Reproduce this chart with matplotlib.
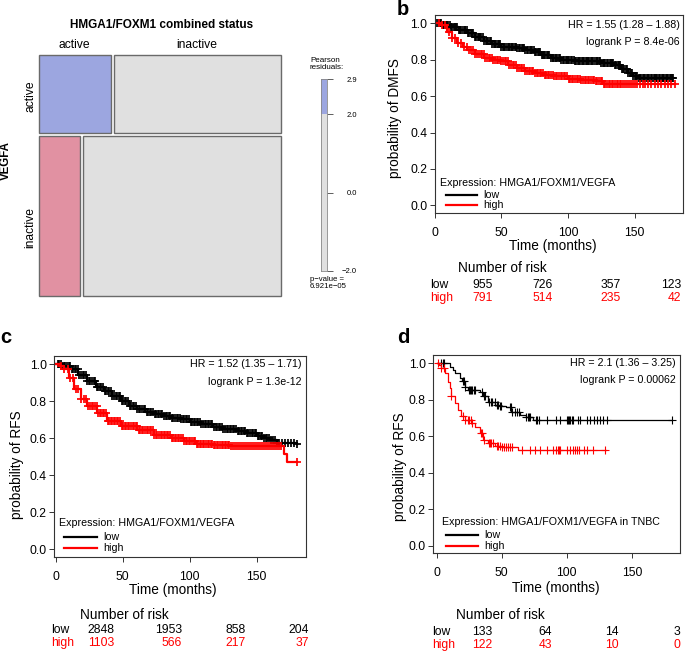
import numpy as np
import matplotlib
matplotlib.use('Agg')
import matplotlib.pyplot as plt
from matplotlib.patches import Rectangle

plt.rcParams['font.family'] = ['Liberation Sans', 'DejaVu Sans']

# ---- panel a: mosaic of VEGFA vs HMGA1/FOXM1 status
row_names = ['active', 'inactive']          # VEGFA
col_names = ['active', 'inactive']          # HMGA1/FOXM1 combined
mosaic_counts = [[98, 229], [116, 557]]
mosaic_colors = [['#9ca6e0', '#e0e0e0'], ['#e191a2', '#e0e0e0']]
resid_breaks = [-2.0, 2.0, 2.9]
resid_colors = ['#e0e0e0', '#9ca6e0']
resid_ticks = [2.9, 2.0, 0.0, -2.0]

# ---- panel b: DMFS
b_low_t = [0, 6, 12, 18, 24.5, 30, 37, 43, 49.5, 55, 62, 68, 74.5, 80, 87, 95, 105, 115, 125, 135, 140, 145, 149, 153, 179]
b_low_s = [1.0, 0.99, 0.981, 0.965, 0.945, 0.925, 0.90, 0.886, 0.872, 0.868, 0.863, 0.852, 0.841, 0.826, 0.808, 0.80, 0.795, 0.79, 0.782, 0.772, 0.75, 0.726, 0.71, 0.699, 0.699]
b_low_c = [1, 2.2, 3, 4.1, 5, 6.2, 7, 8.3, 9.1, 10, 11.2, 12, 13.1, 14.3, 15, 16.2, 17, 18.1, 19.3, 20, 21.2, 22.4, 23, 24.1,
           25.3, 26, 27.2, 28, 29.1, 30.3, 31, 32.2, 33.4, 34, 35.1, 36.3, 37, 38.2, 39, 40.1, 41.3, 42, 43.2, 44.4, 45, 46.1,
           47.3, 48, 49.2, 50, 51.1, 52.3, 53, 54.2, 55.4, 56, 57.1, 58.3, 59, 60.2, 61, 62.1, 63.3, 64, 65.2, 66.4, 67, 68.1,
           69.3, 70, 71.2, 72, 73.1, 74.3, 75, 76.2, 77.4, 78, 79.1, 80.3, 81, 82.2, 83, 84.1, 85.3, 86, 87.2, 88.4, 89, 90.1,
           91.3, 92, 93.2, 94, 95.1, 96.3, 97, 98.2, 99.4, 100, 101.1, 102.3, 103, 104.2, 105, 106.1, 107.3, 108, 109.2, 110.4,
           111, 112.1, 113.3, 114, 115.2, 116, 117.1, 118.3, 119, 120.2, 121.4, 122, 123.1, 124.3, 125, 126.2, 127, 128.1,
           129.3, 130, 131.2, 132.4, 133, 134.1, 135.3, 136, 137.2, 138, 139.1, 140.3, 141, 142.2, 143.4, 144, 145.1, 146.3,
           147, 148.2, 149, 150.1, 151.3, 152, 153.2, 154.4, 155, 156.1, 157.3, 158, 159.2, 160, 161.1, 162.3, 163, 164.2,
           165.4, 166, 167.1, 168.3, 169, 170.2, 171, 172.1, 173.3, 174, 175.2, 176.4, 177, 178.1, 179]
b_high_t = [0, 4, 9.5, 13, 17, 21, 24.5, 30, 37, 43, 49.5, 55, 62, 68, 74.5, 82, 89.5, 100, 110, 120, 126, 180]
b_high_s = [1.0, 0.99, 0.954, 0.92, 0.89, 0.868, 0.854, 0.83, 0.808, 0.80, 0.79, 0.772, 0.754, 0.74, 0.726, 0.716, 0.708, 0.695, 0.688, 0.682, 0.668, 0.668]
b_high_c = [3, 5.5, 8, 10.5, 13, 15, 17.5, 20, 22, 24, 26, 27.5, 29, 30.5, 32, 33.2, 34.5, 35.6, 36.8, 38, 39.3, 40.5, 41.6,
            42.8, 44, 45.3, 46.5, 47.6, 48.8, 50, 51.3, 52.5, 53.6, 54.8, 56, 57.3, 58.5, 59.6, 60.8, 62, 63.3, 64.5, 65.6,
            66.8, 68, 69.3, 70.5, 71.6, 72.8, 74, 75.3, 76.5, 77.6, 78.8, 80, 81.3, 82.5, 83.6, 84.8, 86, 87.3, 88.5, 89.6,
            90.8, 92, 93.3, 94.5, 95.6, 96.8, 98, 99.3, 100.5, 101.6, 102.8, 104, 105.3, 106.5, 107.6, 108.8, 110, 111.3,
            112.5, 113.6, 114.8, 116, 117.3, 118.5, 119.6, 120.8, 122, 123.3, 124.5, 125.6, 126.8, 128, 129.3, 130.5, 131.6,
            132.8, 134, 135.3, 136.5, 137.6, 138.8, 140, 141.5, 143, 144.5, 146, 147.5, 149, 150.5, 152, 154, 156, 158, 160,
            162.5, 165, 167.5, 170, 172.5, 175, 177.5, 180]

# ---- panel c: RFS
c_low_t = [0, 5, 11, 17, 23.6, 30, 36, 42, 48.5, 55, 61, 67, 73.4, 80, 85.8, 92.8, 100, 108, 117.6, 125, 135, 142.5, 150, 155, 160, 165, 180]
c_low_s = [1.0, 0.99, 0.973, 0.94, 0.91, 0.88, 0.856, 0.827, 0.80, 0.777, 0.757, 0.742, 0.73, 0.72, 0.711, 0.703, 0.69, 0.68, 0.663, 0.652, 0.638, 0.627, 0.613, 0.603, 0.59, 0.575, 0.57]
c_low_c = [1.5, 2.7, 3.8, 5, 6.2, 7.3, 8.5, 9.7, 10.8, 12, 13.2, 14.3, 15.5, 16.7, 17.8, 19, 20.2, 21.3, 22.5, 23.7, 24.8, 26,
           27.2, 28.3, 29.5, 30.7, 31.8, 33, 34.2, 35.3, 36.5, 37.7, 38.8, 40, 41.2, 42.3, 43.5, 44.7, 45.8, 47, 48.2, 49.3,
           50.5, 51.7, 52.8, 54, 55.2, 56.3, 57.5, 58.7, 59.8, 61, 62.2, 63.3, 64.5, 65.7, 66.8, 68, 69.2, 70.3, 71.5, 72.7,
           73.8, 75, 76.2, 77.3, 78.5, 79.7, 80.8, 82, 83.2, 84.3, 85.5, 86.7, 87.8, 89, 90.2, 91.3, 92.5, 93.7, 94.8, 96,
           97.2, 98.3, 99.5, 100.7, 101.8, 103, 104.2, 105.3, 106.5, 107.7, 108.8, 110, 111.2, 112.3, 113.5, 114.7, 115.8,
           117, 118.2, 119.3, 120.5, 121.7, 122.8, 124, 125.2, 126.3, 127.5, 128.7, 129.8, 131, 132.2, 133.3, 134.5, 135.7,
           136.8, 138, 139.2, 140.3, 141.5, 142.7, 143.8, 145, 146.2, 147.3, 148.5, 149.7, 150.8, 152, 153.2, 154.3, 155.5,
           156.7, 157.8, 159, 160.5, 162, 163.5, 165, 167, 169, 171, 173, 175.5, 178, 180]
c_high_t = [0, 3, 6.2, 10, 13.7, 18.7, 23.6, 31, 38.5, 48.5, 61, 73.4, 85.8, 95.7, 105, 118, 130, 170.4, 172.4, 180]
c_high_s = [1.0, 0.99, 0.973, 0.928, 0.865, 0.81, 0.775, 0.738, 0.694, 0.667, 0.645, 0.618, 0.603, 0.585, 0.567, 0.562, 0.558, 0.517, 0.472, 0.472]
c_high_c = [4, 6.5, 9, 11, 13, 15, 17, 19, 21, 22.5, 24, 25.5, 27, 28.2, 29.4, 30.5, 31.7, 32.9, 34, 35.2, 36.4, 37.5, 38.7,
            39.9, 41, 42.2, 43.4, 44.5, 45.7, 46.9, 48, 49.2, 50.4, 51.5, 52.7, 53.9, 55, 56.2, 57.4, 58.5, 59.7, 60.9, 62,
            63.2, 64.4, 65.5, 66.7, 67.9, 69, 70.2, 71.4, 72.5, 73.7, 74.9, 76, 77.2, 78.4, 79.5, 80.7, 81.9, 83, 84.2, 85.4,
            86.5, 87.7, 88.9, 90, 91.2, 92.4, 93.5, 94.7, 95.9, 97, 98.2, 99.4, 100.5, 101.7, 102.9, 104, 105.2, 106.4, 107.5,
            108.7, 109.9, 111, 112.2, 113.4, 114.5, 115.7, 116.9, 118, 119.2, 120.4, 121.5, 122.7, 123.9, 125, 126.2, 127.4,
            128.5, 129.7, 130.9, 132, 133.5, 135, 136.5, 138, 139.5, 141, 142.5, 144, 145.5, 147, 148.5, 150, 151.5, 153,
            154.5, 156, 157.5, 159, 160.5, 162, 163.5, 165, 166.5, 168, 180]

# ---- panel d: RFS in TNBC
d_low_t = [0, 10, 12.5, 14, 17.7, 19.2, 21.5, 24, 33, 35.7, 39.5, 44.6, 48, 53.5, 57.4, 63.8, 69, 74, 181]
d_low_s = [1.0, 0.982, 0.963, 0.945, 0.92, 0.903, 0.872, 0.854, 0.845, 0.818, 0.79, 0.773, 0.764, 0.758, 0.733, 0.715, 0.704, 0.688, 0.688]
d_low_c = [3.5, 4.5, 5.5, 20, 21, 22, 24.5, 25.5, 26.5, 27.5, 28.5, 29.5, 35, 36, 37, 40.5, 41.5, 42.5, 44.5, 46.5, 47.5,
           48.5, 49.5, 56, 57, 58, 60, 62, 63.5, 69, 70, 71, 72, 76, 77, 79, 84.6, 92, 95, 100, 101, 102, 102.5, 104, 105,
           108.5, 110.5, 115.5, 118, 121, 123, 125.6, 128, 130.8, 181]
d_high_t = [0, 2, 3.6, 6.2, 8.7, 10, 11.2, 13.8, 16.4, 19, 21.5, 26.7, 29.2, 33, 35.6, 39.5, 44.6, 50, 62.5, 130]
d_high_s = [1.0, 0.99, 0.972, 0.945, 0.90, 0.864, 0.818, 0.782, 0.745, 0.709, 0.687, 0.672, 0.649, 0.618, 0.582, 0.564, 0.549, 0.54, 0.523, 0.523]
d_high_c = [1.3, 3.6, 6, 11.2, 20.5, 21.5, 24, 25, 26, 27, 34, 35, 36, 40, 41, 42, 43, 46, 47.5, 49, 50.5, 52, 53.5, 55,
            56.5, 58, 65.4, 71.8, 75.6, 79.5, 84.6, 89.7, 92, 93, 94, 95, 100, 102.5, 104.5, 106.4, 107.7, 109, 113, 115.4,
            120.5, 129.5]

risk_b = [[955, 726, 357, 123], [791, 514, 235, 42]]
risk_c = [[2848, 1953, 858, 204], [1103, 566, 217, 37]]
risk_d = [[133, 64, 14, 3], [122, 43, 10, 0]]

W, H = 685, 652
fig = plt.figure(figsize=(6.85, 6.52), dpi=100)


def fx(x):
    return x / W


def fy(y):
    return 1 - y / H


def box(x0, y0, x1, y1):
    return [x0 / W, 1 - y1 / H, (x1 - x0) / W, (y1 - y0) / H]


def txt(x, y, s, **kw):
    kw.setdefault('va', 'center')
    fig.text(fx(x), fy(y), s, **kw)


# ================= panel a
ax = fig.add_axes(box(39.3, 55, 280.7, 296))
ax.set_xlim(0, 1)
ax.set_ylim(0, 1)
ax.axis('off')
counts = np.array(mosaic_counts, dtype=float)
gx, gy = 0.011, 0.0137
ytop = 1.0
for i in range(2):
    h = (1 - gy) * counts[i].sum() / counts.sum()
    x = 0.0
    for j in range(2):
        w = (1 - gx) * counts[i, j] / counts[i].sum()
        ax.add_patch(Rectangle((x, ytop - h), w, h, facecolor=mosaic_colors[i][j],
                               edgecolor='#6a6a6a', lw=1.0, clip_on=False))
        x += w + gx
    ytop -= h + gy

txt(162, 25, 'HMGA1/FOXM1 combined status', ha='center', fontsize=8.5, fontweight='bold')
txt(74, 45, col_names[0], ha='center', fontsize=8.7)
txt(197, 45, col_names[1], ha='center', fontsize=8.7)
txt(31, 96, row_names[0], ha='center', rotation=90, fontsize=8.7)
txt(30, 227, row_names[1], ha='center', rotation=90, fontsize=8.7)
txt(5.5, 161, 'VEGFA', ha='center', rotation=90, fontsize=8.3, fontweight='bold')

cax = fig.add_axes(box(320.7, 79.3, 327.3, 270.7))
cax.bar([0, 0], np.diff(resid_breaks), bottom=resid_breaks[:-1], width=1,
        color=resid_colors, edgecolor='none')
cax.set_xlim(-0.5, 0.5)
cax.set_ylim(resid_breaks[0], resid_breaks[-1])
cax.set_xticks([])
cax.yaxis.tick_right()
cax.set_yticks(resid_ticks)
cax.set_yticklabels(['%.1f' % v if v >= 0 else '\u2212%.1f' % -v for v in resid_ticks])
for lab in cax.get_yticklabels():
    lab.set_ha('right')
cax.tick_params(axis='y', length=4.3, width=0.6, color='#444', labelsize=5.5, pad=17)
for sp in cax.spines.values():
    sp.set_linewidth(0.6)
    sp.set_color('#888')
txt(310, 64, 'Pearson\nresiduals:', ha='left', fontsize=5.8, linespacing=0.95)
txt(310, 283, 'p\u2212value =\n6.921e\u221205', ha='left', fontsize=5.6, linespacing=0.95)


# ================= KM panels
def km_panel(rect, xlim, curves, lw, ms, mew):
    ax = fig.add_axes(rect)
    for t, s, c, col in curves:
        t = np.array(t)
        s = np.array(s)
        ax.step(t, s, where='post', color=col, lw=lw)
        idx = np.searchsorted(t, c, side='right') - 1
        ax.plot(c, s[idx], '+', color=col, ms=ms, mew=mew)
    ax.set_xlim(xlim)
    ax.set_ylim(-0.04, 1.045)
    ax.set_xticks([0, 50, 100, 150])
    ax.set_yticks([0, 0.2, 0.4, 0.6, 0.8, 1.0])
    ax.set_yticklabels(['0.0', '0.2', '0.4', '0.6', '0.8', '1.0'])
    ax.tick_params(labelsize=8.7, length=3.6, width=0.7, color='#333')
    ax.tick_params(axis='y', pad=1.8)
    ax.tick_params(axis='x', pad=6.5)
    for sp in ax.spines.values():
        sp.set_linewidth(0.8)
        sp.set_color('#333')
    return ax


def risk_table(center_x, y_title, y_low, y_high, x_lab, x_cols, rows):
    txt(center_x, y_title, 'Number of risk', ha='center', fontsize=9.8)
    txt(x_lab, y_low, 'low', ha='left', fontsize=8.7)
    txt(x_lab, y_high, 'high', ha='left', fontsize=8.7, color='red')
    for xc, v in zip(x_cols, rows[0]):
        txt(xc, y_low, str(v), ha='right', fontsize=8.7)
    for xc, v in zip(x_cols, rows[1]):
        txt(xc, y_high, str(v), ha='right', fontsize=8.7, color='red')


def legend(x_text, y_title, y_low, y_high, x_l0, x_l1, title):
    txt(x_text, y_title, title, ha='left', fontsize=7.7)
    fig.add_artist(plt.Line2D([fx(x_l0), fx(x_l1)], [fy(y_low)] * 2, color='black', lw=1.6))
    fig.add_artist(plt.Line2D([fx(x_l0), fx(x_l1)], [fy(y_high)] * 2, color='red', lw=1.6))
    txt(x_l1 + 6, y_low, 'low', ha='left', fontsize=7.7)
    txt(x_l1 + 6, y_high, 'high', ha='left', fontsize=7.7)


# panel b
km_panel(box(434.7, 15, 683, 212.7), (0, 186.3),
         [(b_low_t, b_low_s, b_low_c, 'black'), (b_high_t, b_high_s, b_high_c, 'red')], 1.6, 5.5, 1.25)
txt(397, 15, 'b', ha='left', va='baseline', fontsize=14.5, fontweight='bold')
txt(680, 25, 'HR = 1.55 (1.28 \u2013 1.88)', ha='right', fontsize=7.7)
txt(680, 42, 'logrank P = 8.4e-06', ha='right', fontsize=7.7)
legend(440, 182.7, 195, 205, 446, 477, 'Expression: HMGA1/FOXM1/VEGFA')
txt(553, 246, 'Time (months)', ha='center', fontsize=9.8)
txt(395.5, 118, 'probability of DMFS', ha='center', rotation=90, fontsize=9.8)
risk_table(502.5, 268, 285, 298, 430, [493, 553, 621, 681], risk_b)

# panel c
km_panel(box(54.3, 356, 306, 556.7), (-1, 186.8),
         [(c_low_t, c_low_s, c_low_c, 'black'), (c_high_t, c_high_s, c_high_c, 'red')], 1.6, 5.5, 1.25)
txt(0, 343.3, 'c', ha='left', va='baseline', fontsize=14.5, fontweight='bold')
txt(301, 364.3, 'HR = 1.52 (1.35 \u2013 1.71)', ha='right', fontsize=7.7)
txt(301, 382.3, 'logrank P = 1.3e-12', ha='right', fontsize=7.7)
legend(59.3, 523.3, 537.3, 547.7, 64, 97, 'Expression: HMGA1/FOXM1/VEGFA')
txt(173.3, 590, 'Time (months)', ha='center', fontsize=9.8)
txt(17.5, 465, 'probability of RFS', ha='center', rotation=90, fontsize=9.8)
risk_table(124, 615, 630, 643, 51.5, [114, 182, 246, 309], risk_c)

# panel d
km_panel(box(433.3, 355, 680, 553.3), (-2.6, 187),
         [(d_low_t, d_low_s, d_low_c, 'black'), (d_high_t, d_high_s, d_high_c, 'red')], 0.9, 5.5, 0.8)
txt(397, 343.3, 'd', ha='left', va='baseline', fontsize=14.5, fontweight='bold')
txt(676, 363.3, 'HR = 2.1 (1.36 \u2013 3.25)', ha='right', fontsize=7.7)
txt(676, 380, 'logrank P = 0.00062', ha='right', fontsize=7.7)
legend(441.7, 521.7, 535, 545.7, 446, 478, 'Expression: HMGA1/FOXM1/VEGFA in TNBC')
txt(555.5, 588.3, 'Time (months)', ha='center', fontsize=9.8)
txt(400, 467, 'probability of RFS', ha='center', rotation=90, fontsize=9.8)
risk_table(500, 615, 632, 645, 431.7, [492, 552, 619, 680], risk_d)

plt.savefig('out.png', dpi=100)
